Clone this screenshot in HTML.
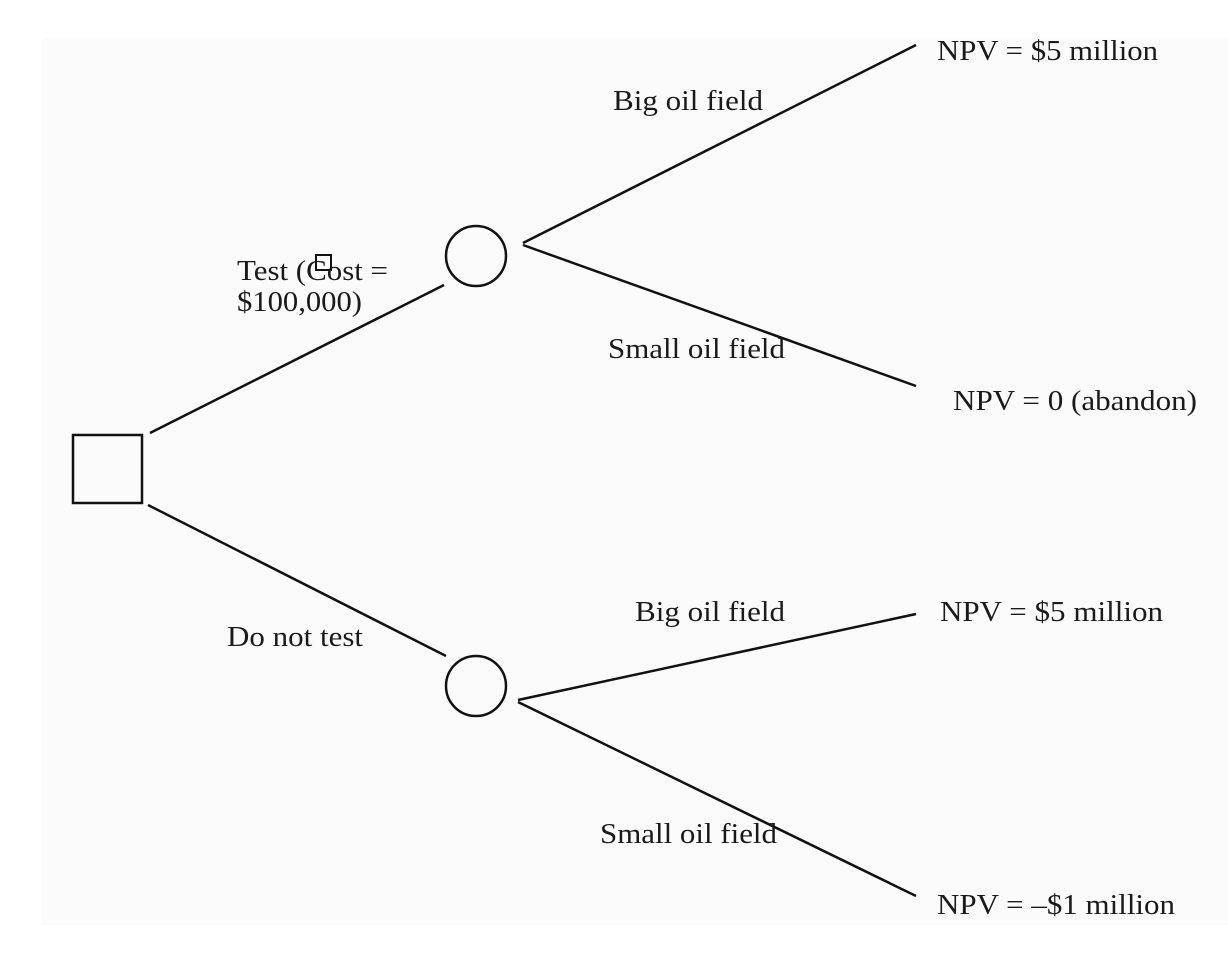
<!DOCTYPE html>
<html><head><meta charset="utf-8"><style>
html,body{margin:0;padding:0;background:#fff;}
svg{display:block;}
text{font-family:"Liberation Serif",serif;font-size:29px;fill:#1a1a1a;}
</style></head><body>
<svg width="1228" height="960" viewBox="0 0 1228 960" xmlns="http://www.w3.org/2000/svg">
<rect x="0" y="0" width="1228" height="960" fill="#fff"/>
<rect x="42" y="38" width="1186" height="887" fill="#fafbfa"/>
<g stroke="#111" stroke-width="2.5" fill="none">
<rect x="73" y="435" width="69" height="68"/>
<circle cx="476" cy="256" r="30"/>
<circle cx="476" cy="686" r="30"/>
<line x1="150" y1="433" x2="444" y2="285"/>
<line x1="148" y1="505" x2="446" y2="656"/>
<line x1="523" y1="243" x2="916" y2="45"/>
<line x1="523" y1="245" x2="916" y2="386"/>
<line x1="518" y1="700" x2="916" y2="614"/>
<line x1="518" y1="702" x2="916" y2="896"/>
</g>
<rect x="316" y="255" width="15" height="15" fill="#fff" stroke="#111" stroke-width="2"/>
<text x="937" y="60" textLength="221" lengthAdjust="spacingAndGlyphs">NPV = $5 million</text>
<text x="613" y="110" textLength="150" lengthAdjust="spacingAndGlyphs">Big oil field</text>
<text x="237" y="280" textLength="151" lengthAdjust="spacingAndGlyphs">Test (Cost =</text>
<text x="237" y="311" textLength="125" lengthAdjust="spacingAndGlyphs">$100,000)</text>
<text x="608" y="358" textLength="177" lengthAdjust="spacingAndGlyphs">Small oil field</text>
<text x="953" y="410" textLength="244" lengthAdjust="spacingAndGlyphs">NPV = 0 (abandon)</text>
<text x="635" y="621" textLength="150" lengthAdjust="spacingAndGlyphs">Big oil field</text>
<text x="940" y="621" textLength="223" lengthAdjust="spacingAndGlyphs">NPV = $5 million</text>
<text x="227" y="646" textLength="136" lengthAdjust="spacingAndGlyphs">Do not test</text>
<text x="600" y="843" textLength="177" lengthAdjust="spacingAndGlyphs">Small oil field</text>
<text x="937" y="914" textLength="238" lengthAdjust="spacingAndGlyphs">NPV = –$1 million</text>
</svg>
</body></html>
